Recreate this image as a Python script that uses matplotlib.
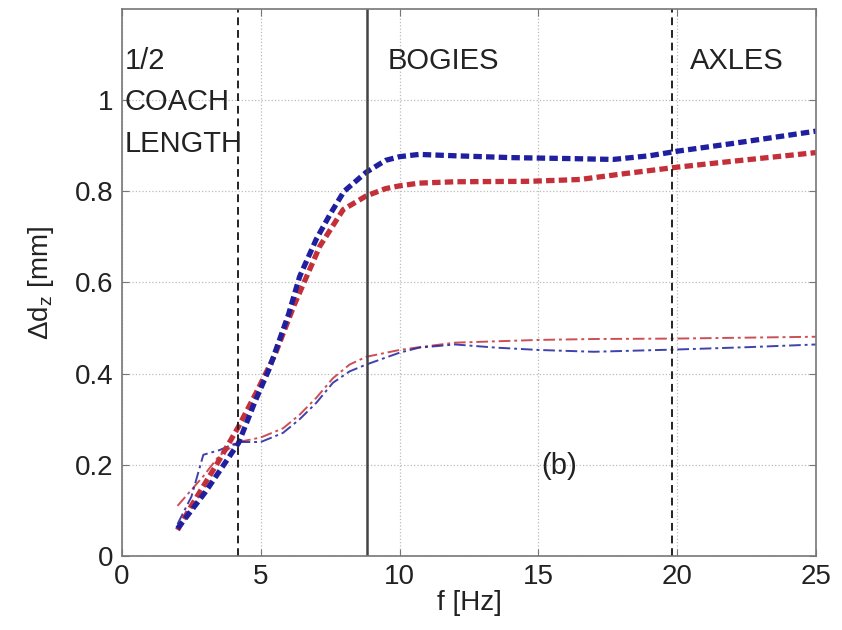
import numpy as np
import matplotlib.pyplot as plt

plt.rcParams['font.family'] = ['Liberation Sans', 'DejaVu Sans']
plt.rcParams['mathtext.fontset'] = 'custom'
plt.rcParams['mathtext.rm'] = 'Liberation Sans'

# thick curves
f_thick = [2.0, 2.5, 3.0, 3.5, 4.2, 4.8, 5.3, 6.0, 6.4, 7.0, 7.5, 8.0, 8.8, 9.5, 10.0, 10.7, 12.0, 14.0, 16.0, 17.7, 19.0, 20.0, 22.0, 25.0]
blue_thick = [0.06, 0.10, 0.14, 0.185, 0.248, 0.34, 0.41, 0.53, 0.613, 0.695, 0.75, 0.80, 0.842, 0.868, 0.876, 0.881, 0.878, 0.874, 0.872, 0.870, 0.878, 0.888, 0.905, 0.932]
f_red = [2.0, 2.5, 3.0, 3.5, 4.2, 4.85, 5.5, 6.2, 7.13, 7.97, 8.8, 9.5, 10.0, 10.7, 12.0, 14.7, 16.5, 18.0, 20.0, 22.0, 25.0]
red_thick = [0.057, 0.11, 0.16, 0.21, 0.284, 0.36, 0.44, 0.55, 0.68, 0.76, 0.79, 0.806, 0.812, 0.818, 0.821, 0.822, 0.826, 0.838, 0.853, 0.866, 0.885]

# thin curves
f_thin = [2.0, 2.5, 2.93, 3.5, 4.2, 5.0, 5.8, 6.4, 7.0, 7.6, 8.2, 8.8, 10.0, 10.7, 12.0, 13.5, 15.0, 17.0, 20.0, 22.5, 25.0]
blue_thin = [0.07, 0.13, 0.222, 0.232, 0.25, 0.25, 0.27, 0.30, 0.336, 0.38, 0.405, 0.42, 0.446, 0.457, 0.464, 0.457, 0.452, 0.448, 0.453, 0.458, 0.464]
red_thin = [0.11, 0.145, 0.175, 0.22, 0.25, 0.26, 0.28, 0.31, 0.347, 0.39, 0.42, 0.437, 0.452, 0.458, 0.468, 0.471, 0.474, 0.476, 0.477, 0.479, 0.481]

vlines_dashed = [4.18, 19.8]
vline_solid = 8.82

blue = '#1f1fa0'
red = '#c4303a'

fig = plt.figure(figsize=(8.42, 6.3), dpi=100)
ax = fig.add_axes([0.1449, 0.1175, 0.969 - 0.1449, 0.9857 - 0.1175])

ax.plot(f_thin, red_thin, color=red, lw=1.4, ls=(0, (6, 2, 1.5, 2)), alpha=0.85)
ax.plot(f_thin, blue_thin, color=blue, lw=1.4, ls=(0, (6, 2, 1.5, 2)), alpha=0.85)
ax.plot(f_red, red_thick, color=red, lw=3.8, ls=(0, (1.6, 0.8)))
ax.plot(f_thick, blue_thick, color=blue, lw=3.8, ls=(0, (1.6, 0.8)))

for xv in vlines_dashed:
    ax.axvline(xv, color='#222222', lw=1.4, ls=(0, (4, 2.5)))
ax.axvline(vline_solid, color='#444444', lw=1.8)

ax.set_xlim(0, 25)
ax.set_ylim(0, 1.2)
ax.set_xticks([0, 5, 10, 15, 20, 25])
ax.set_yticks([0, 0.2, 0.4, 0.6, 0.8, 1.0])
ax.set_yticklabels(['0', '0.2', '0.4', '0.6', '0.8', '1'])
ax.tick_params(direction='in', top=True, right=True, labelsize=20, length=5,
               color='#777777', labelcolor='#222222', pad=6)
ax.grid(True, color='#bbbbbb', ls=':', lw=0.9)
for s in ax.spines.values():
    s.set_color('#777777')
    s.set_linewidth(1.2)

ax.set_xlabel('f [Hz]', fontsize=20, color='#222222', labelpad=0)
ax.set_ylabel(r'Δd$\mathregular{_z}$ [mm]', fontsize=20, color='#222222', labelpad=14)

tk = dict(fontsize=21, color='#222222')
ax.text(0.1, 1.086, '1/2', va='center', ha='left', **tk)
ax.text(0.1, 0.995, 'COACH', va='center', ha='left', **tk)
ax.text(0.1, 0.903, 'LENGTH', va='center', ha='left', **tk)
ax.text(9.58, 1.086, 'BOGIES', va='center', ha='left', **tk)
ax.text(20.46, 1.086, 'AXLES', va='center', ha='left', **tk)
ax.text(15.74, 0.198, '(b)', va='center', ha='center', **tk)

fig.savefig('out.png', dpi=100)
